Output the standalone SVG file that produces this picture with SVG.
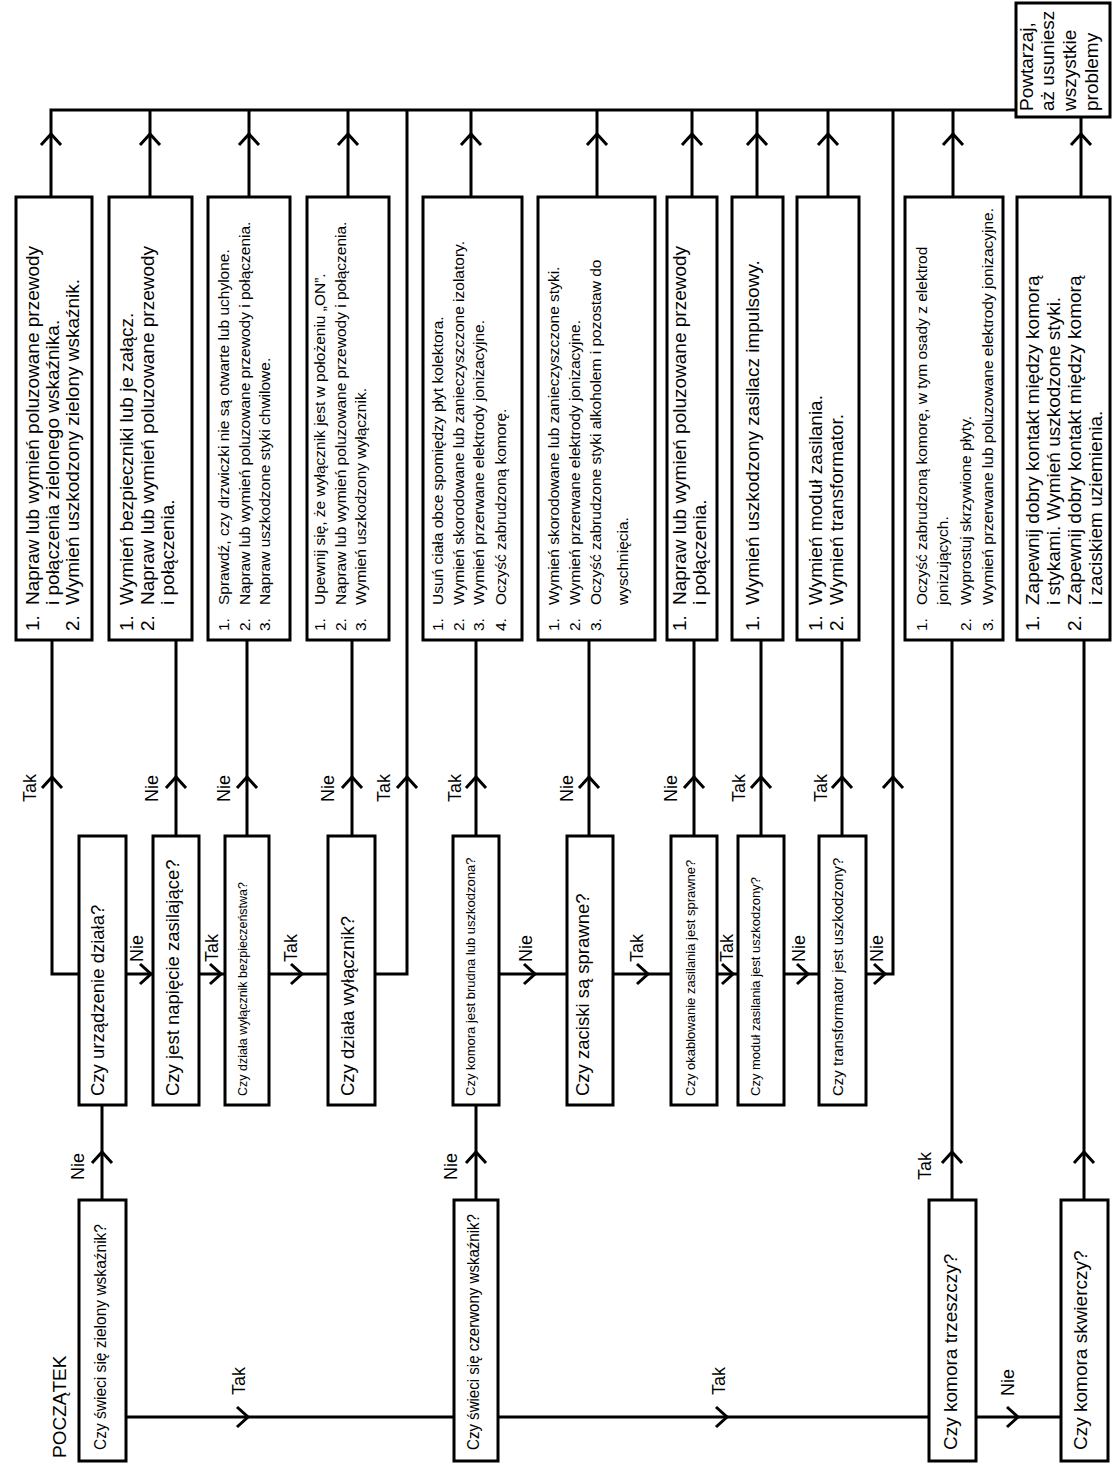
<svg xmlns="http://www.w3.org/2000/svg" xmlns:xlink="http://www.w3.org/1999/xlink" width="1112" height="1464" viewBox="0 0 1112 1464">
<style>
.b{fill:#fff;stroke:#000;stroke-width:3}
.c{fill:none;stroke:#000;stroke-width:3}
text{font-family:"Liberation Sans",Arial,sans-serif;fill:#000}
.t19{font-size:19px}
.t18{font-size:18.5px}
.t16{font-size:16px}
.t15{font-size:15.5px}
.t14{font-size:15px}
.t13{font-size:13px}
.t12{font-size:12.5px}
.lb{font-size:18px}
</style>
<defs>
<path id="up" d="M-10,11 L0,0 L10,11" fill="none" stroke="#000" stroke-width="3"/>
<path id="rt" d="M-11,-10 L0,0 L-11,10" fill="none" stroke="#000" stroke-width="3"/>
</defs>
<rect width="1112" height="1464" fill="#fff"/>

<g id="connectors">
<path class="c" d="M51,197 V110 H1016"/>
<path class="c" d="M150,197 V110 M249,197 V110 M348,197 V110 M471,197 V110 M597,197 V110 M692,197 V110 M757,197 V110 M828,197 V110 M953,197 V110 M1081,197 V117"/>
<use xlink:href="#up" x="51" y="134"/><use xlink:href="#up" x="150" y="134"/><use xlink:href="#up" x="249" y="134"/><use xlink:href="#up" x="348" y="134"/><use xlink:href="#up" x="471" y="134"/><use xlink:href="#up" x="597" y="134"/><use xlink:href="#up" x="692" y="134"/><use xlink:href="#up" x="757" y="134"/><use xlink:href="#up" x="828" y="134"/><use xlink:href="#up" x="953" y="134"/><use xlink:href="#up" x="1081" y="134"/>
<path class="c" d="M79,974 H52 V640 M176,836 V640 M247,836 V640 M352,836 V640 M375,974 H407 V110 M476,836 V640 M589,836 V640 M694,836 V640 M761,836 V640 M842,836 V640 M866,974 H893 V110 M952,1200 V640 M1084,1200 V640"/>
<use xlink:href="#up" x="52" y="777"/><use xlink:href="#up" x="176" y="777"/><use xlink:href="#up" x="247" y="777"/><use xlink:href="#up" x="352" y="777"/><use xlink:href="#up" x="407" y="777"/><use xlink:href="#up" x="476" y="777"/><use xlink:href="#up" x="589" y="777"/><use xlink:href="#up" x="694" y="777"/><use xlink:href="#up" x="761" y="777"/><use xlink:href="#up" x="842" y="777"/><use xlink:href="#up" x="893" y="777"/>
<use xlink:href="#up" x="952" y="1152"/><use xlink:href="#up" x="1084" y="1152"/>
<path class="c" d="M126,974 H153 M199,974 H225 M269,974 H328 M499,974 H567 M613,974 H671 M717,974 H738 M784,974 H819"/>
<use xlink:href="#rt" x="151" y="974"/><use xlink:href="#rt" x="221" y="974"/><use xlink:href="#rt" x="302" y="974"/><use xlink:href="#rt" x="535" y="974"/><use xlink:href="#rt" x="648" y="974"/><use xlink:href="#rt" x="733" y="974"/><use xlink:href="#rt" x="808" y="974"/><use xlink:href="#rt" x="885" y="974"/>
<path class="c" d="M102,1105 V1200 M476,1105 V1200"/>
<use xlink:href="#up" x="102" y="1152"/><use xlink:href="#up" x="476" y="1152"/>
<path class="c" d="M126,1417 H454 M498,1417 H929 M976,1417 H1061"/>
<use xlink:href="#rt" x="248" y="1417"/><use xlink:href="#rt" x="727" y="1417"/><use xlink:href="#rt" x="1018" y="1417"/>
<g class="lb">
<text class="lb" transform="translate(36,802) rotate(-90)">Tak</text>
<text class="lb" transform="translate(158,802) rotate(-90)">Nie</text>
<text class="lb" transform="translate(230,802) rotate(-90)">Nie</text>
<text class="lb" transform="translate(334,802) rotate(-90)">Nie</text>
<text class="lb" transform="translate(390,802) rotate(-90)">Tak</text>
<text class="lb" transform="translate(461,802) rotate(-90)">Tak</text>
<text class="lb" transform="translate(573,802) rotate(-90)">Nie</text>
<text class="lb" transform="translate(677,802) rotate(-90)">Nie</text>
<text class="lb" transform="translate(745,802) rotate(-90)">Tak</text>
<text class="lb" transform="translate(827,802) rotate(-90)">Tak</text>
<text class="lb" transform="translate(143,962) rotate(-90)">Nie</text>
<text class="lb" transform="translate(218,962) rotate(-90)">Tak</text>
<text class="lb" transform="translate(297,962) rotate(-90)">Tak</text>
<text class="lb" transform="translate(532,962) rotate(-90)">Nie</text>
<text class="lb" transform="translate(643,962) rotate(-90)">Tak</text>
<text class="lb" transform="translate(733,962) rotate(-90)">Tak</text>
<text class="lb" transform="translate(805,962) rotate(-90)">Nie</text>
<text class="lb" transform="translate(883,962) rotate(-90)">Nie</text>
<text class="lb" transform="translate(84,1180) rotate(-90)">Nie</text>
<text class="lb" transform="translate(457,1180) rotate(-90)">Nie</text>
<text class="lb" transform="translate(931,1180) rotate(-90)">Tak</text>
<text class="lb" transform="translate(245,1395) rotate(-90)">Tak</text>
<text class="lb" transform="translate(725,1395) rotate(-90)">Tak</text>
<text class="lb" transform="translate(1014,1396) rotate(-90)">Nie</text>
</g>
</g>

<g id="repeat">
<rect class="b" x="1016" y="3" width="94" height="114"/>
<text class="t19" transform="translate(1033,111) rotate(-90)">Powtarzaj,</text>
<text class="t19" transform="translate(1054,111) rotate(-90)">aż usuniesz</text>
<text class="t19" transform="translate(1076,111) rotate(-90)">wszystkie</text>
<text class="t19" transform="translate(1098,111) rotate(-90)">problemy</text>
</g>

<g id="a1">
<rect class="b" x="16" y="197" width="76" height="443"/>
<text class="t19" transform="translate(39,631) rotate(-90)">1.</text>
<text class="t19" transform="translate(39,605) rotate(-90)">Napraw lub wymień poluzowane przewody</text>
<text class="t19" transform="translate(59,605) rotate(-90)">i połączenia zielonego wskaźnika.</text>
<text class="t19" transform="translate(79,631) rotate(-90)">2.</text>
<text class="t19" transform="translate(79,605) rotate(-90)">Wymień uszkodzony zielony wskaźnik.</text>
</g>
<g id="a2">
<rect class="b" x="109" y="197" width="83" height="443"/>
<text class="t19" transform="translate(133,631) rotate(-90)">1.</text>
<text class="t19" transform="translate(133,605) rotate(-90)">Wymień bezpieczniki lub je załącz.</text>
<text class="t19" transform="translate(154,631) rotate(-90)">2.</text>
<text class="t19" transform="translate(154,605) rotate(-90)">Napraw lub wymień poluzowane przewody</text>
<text class="t19" transform="translate(174,605) rotate(-90)">i połączenia.</text>
</g>
<g id="a3">
<rect class="b" x="208" y="197" width="82" height="443"/>
<text class="t15" transform="translate(229,631) rotate(-90)">1.</text>
<text class="t15" transform="translate(229,605) rotate(-90)">Sprawdź, czy drzwiczki nie są otwarte lub uchylone.</text>
<text class="t15" transform="translate(250,631) rotate(-90)">2.</text>
<text class="t15" transform="translate(250,605) rotate(-90)">Napraw lub wymień poluzowane przewody i połączenia.</text>
<text class="t15" transform="translate(270,631) rotate(-90)">3.</text>
<text class="t15" transform="translate(270,605) rotate(-90)">Napraw uszkodzone styki chwilowe.</text>
</g>
<g id="a4">
<rect class="b" x="307" y="197" width="82" height="443"/>
<text class="t15" transform="translate(325,631) rotate(-90)">1.</text>
<text class="t15" transform="translate(325,605) rotate(-90)">Upewnij się, że wyłącznik jest w położeniu „ON”.</text>
<text class="t15" transform="translate(346,631) rotate(-90)">2.</text>
<text class="t15" transform="translate(346,605) rotate(-90)">Napraw lub wymień poluzowane przewody i połączenia.</text>
<text class="t15" transform="translate(366,631) rotate(-90)">3.</text>
<text class="t15" transform="translate(366,605) rotate(-90)">Wymień uszkodzony wyłącznik.</text>
</g>
<g id="a5">
<rect class="b" x="423" y="197" width="99" height="443"/>
<text class="t15" transform="translate(443,631) rotate(-90)">1.</text>
<text class="t15" transform="translate(443,605) rotate(-90)">Usuń ciała obce spomiędzy płyt kolektora.</text>
<text class="t15" transform="translate(464,631) rotate(-90)">2.</text>
<text class="t15" transform="translate(464,605) rotate(-90)">Wymień skorodowane lub zanieczyszczone izolatory.</text>
<text class="t15" transform="translate(484,631) rotate(-90)">3.</text>
<text class="t15" transform="translate(484,605) rotate(-90)">Wymień przerwane elektrody jonizacyjne.</text>
<text class="t15" transform="translate(506,631) rotate(-90)">4.</text>
<text class="t15" transform="translate(506,605) rotate(-90)">Oczyść zabrudzoną komorę.</text>
</g>
<g id="a6">
<rect class="b" x="538" y="197" width="117" height="443"/>
<text class="t15" transform="translate(559,631) rotate(-90)">1.</text>
<text class="t15" transform="translate(559,605) rotate(-90)">Wymień skorodowane lub zanieczyszczone styki.</text>
<text class="t15" transform="translate(580,631) rotate(-90)">2.</text>
<text class="t15" transform="translate(580,605) rotate(-90)">Wymień przerwane elektrody jonizacyjne.</text>
<text class="t15" transform="translate(601,631) rotate(-90)">3.</text>
<text class="t15" transform="translate(601,605) rotate(-90)">Oczyść zabrudzone styki alkoholem i pozostaw do</text>
<text class="t15" transform="translate(628,605) rotate(-90)">wyschnięcia.</text>
</g>
<g id="a7">
<rect class="b" x="667" y="197" width="50" height="443"/>
<text class="t19" transform="translate(686,631) rotate(-90)">1.</text>
<text class="t19" transform="translate(686,605) rotate(-90)">Napraw lub wymień poluzowane przewody</text>
<text class="t19" transform="translate(706,605) rotate(-90)">i połączenia.</text>
</g>
<g id="a8">
<rect class="b" x="732" y="197" width="51" height="443"/>
<text class="t19" transform="translate(759,631) rotate(-90)">1.</text>
<text class="t19" transform="translate(759,605) rotate(-90)">Wymień uszkodzony zasilacz impulsowy.</text>
</g>
<g id="a9">
<rect class="b" x="797" y="197" width="62" height="443"/>
<text class="t19" transform="translate(822,631) rotate(-90)">1.</text>
<text class="t19" transform="translate(822,605) rotate(-90)">Wymień moduł zasilania.</text>
<text class="t19" transform="translate(843,631) rotate(-90)">2.</text>
<text class="t19" transform="translate(843,605) rotate(-90)">Wymień transformator.</text>
</g>
<g id="a10">
<rect class="b" x="905" y="197" width="98" height="443"/>
<text class="t15" transform="translate(927,631) rotate(-90)">1.</text>
<text class="t15" transform="translate(927,605) rotate(-90)">Oczyść zabrudzoną komorę, w tym osady z elektrod</text>
<text class="t15" transform="translate(948,605) rotate(-90)">jonizujących.</text>
<text class="t15" transform="translate(971,631) rotate(-90)">2.</text>
<text class="t15" transform="translate(971,605) rotate(-90)">Wyprostuj skrzywione płyty.</text>
<text class="t15" transform="translate(993,631) rotate(-90)">3.</text>
<text class="t15" transform="translate(993,605) rotate(-90)">Wymień przerwane lub poluzowane elektrody jonizacyjne.</text>
</g>
<g id="a11">
<rect class="b" x="1017" y="197" width="93" height="443"/>
<text class="t19" transform="translate(1039,631) rotate(-90)">1.</text>
<text class="t19" transform="translate(1039,605) rotate(-90)">Zapewnij dobry kontakt między komorą</text>
<text class="t19" transform="translate(1060,605) rotate(-90)">i stykami. Wymień uszkodzone styki.</text>
<text class="t19" transform="translate(1081,631) rotate(-90)">2.</text>
<text class="t19" transform="translate(1081,605) rotate(-90)">Zapewnij dobry kontakt między komorą</text>
<text class="t19" transform="translate(1102,605) rotate(-90)">i zaciskiem uziemienia.</text>
</g>

<g id="d1"><rect class="b" x="79" y="836" width="47" height="269"/><text class="t18" transform="translate(104,1096) rotate(-90)">Czy urządzenie działa?</text></g>
<g id="d2"><rect class="b" x="153" y="836" width="46" height="269"/><text class="t18" transform="translate(179,1096) rotate(-90)">Czy jest napięcie zasilające?</text></g>
<g id="d3"><rect class="b" x="225" y="836" width="44" height="269"/><text class="t12" transform="translate(247,1096) rotate(-90)">Czy działa wyłącznik bezpieczeństwa?</text></g>
<g id="d4"><rect class="b" x="328" y="836" width="47" height="269"/><text class="t18" transform="translate(354,1096) rotate(-90)">Czy działa wyłącznik?</text></g>
<g id="d5"><rect class="b" x="453" y="836" width="46" height="269"/><text class="t13" transform="translate(475,1096) rotate(-90)">Czy komora jest brudna lub uszkodzona?</text></g>
<g id="d6"><rect class="b" x="567" y="836" width="46" height="269"/><text class="t18" transform="translate(589,1096) rotate(-90)">Czy zaciski są sprawne?</text></g>
<g id="d7"><rect class="b" x="671" y="836" width="46" height="269"/><text class="t13" transform="translate(695,1096) rotate(-90)">Czy okablowanie zasilania jest sprawne?</text></g>
<g id="d8"><rect class="b" x="738" y="836" width="46" height="269"/><text class="t13" transform="translate(760,1096) rotate(-90)">Czy moduł zasilania jest uszkodzony?</text></g>
<g id="d9"><rect class="b" x="819" y="836" width="47" height="269"/><text class="t14" transform="translate(843,1096) rotate(-90)">Czy transformator jest uszkodzony?</text></g>

<g id="start">
<text class="t19" transform="translate(66,1458) rotate(-90)">POCZĄTEK</text>
<rect class="b" x="79" y="1200" width="47" height="261"/>
<text class="t16" transform="translate(106,1450) rotate(-90)" textLength="226" lengthAdjust="spacingAndGlyphs">Czy świeci się zielony wskaźnik?</text>
</g>
<g id="b2"><rect class="b" x="454" y="1200" width="44" height="261"/><text class="t16" transform="translate(479,1450) rotate(-90)" textLength="236" lengthAdjust="spacingAndGlyphs">Czy świeci się czerwony wskaźnik?</text></g>
<g id="b3"><rect class="b" x="929" y="1200" width="47" height="261"/><text class="t19" transform="translate(957,1450) rotate(-90)">Czy komora trzeszczy?</text></g>
<g id="b4"><rect class="b" x="1061" y="1200" width="47" height="261"/><text class="t19" transform="translate(1087,1450) rotate(-90)">Czy komora skwierczy?</text></g>
</svg>
